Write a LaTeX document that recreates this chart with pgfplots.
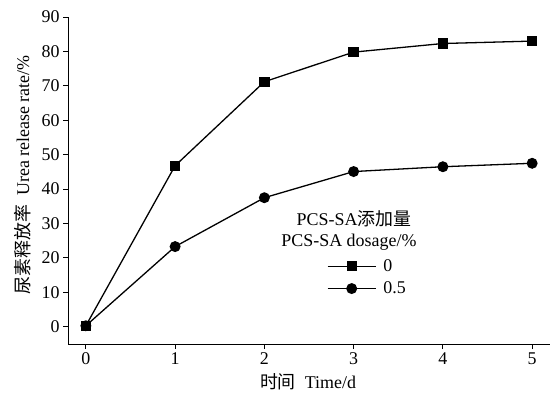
\documentclass[border=0pt]{standalone}
\usepackage{fontspec}
\setmainfont{Liberation Serif}
\newfontfamily\cjk{Noto Sans CJK SC}
\usepackage{pgfplots}
\pgfplotsset{compat=1.18}
\begin{document}
\begin{tikzpicture}
\begin{axis}[
  scale only axis, width=482bp, height=327bp,
  xmin=-0.2, xmax=5.2, ymin=-5, ymax=90,
  axis x line*=bottom, axis y line*=left,
  xtick={0,1,2,3,4,5}, ytick={0,10,...,90},
  tick align=outside, major tick length=5bp,
  every tick/.style={black, line width=1bp},
  axis line style={line width=1bp},
  font=\fontsize{18}{21}\selectfont,
  ticklabel style={font=\fontsize{18}{21}\selectfont},
  /pgf/number format/assume math mode=true,
  xlabel={{\cjk 时间}\enspace Time/d},
  ylabel={{\cjk 尿素释放率}\enspace Urea release rate/\%},
  xlabel style={at={(axis description cs:0.498,-0.116)}, anchor=center},
  ylabel style={at={(axis description cs:-0.095,0.517)}, anchor=center},
  clip=false,
  legend style={draw=none, fill=none, at={(axis cs:2.70,20.2)}, anchor=north west,
    font=\fontsize{18}{21}\selectfont, inner sep=0pt, row sep=5bp,
    /tikz/every odd column/.append style={column sep=5bp}},
  legend cell align=left,
  legend image code/.code={\draw[mark repeat=2,mark phase=2] plot coordinates {(0bp,0bp)(24bp,0bp)(48bp,0bp)};},
]
\addplot[black, line width=1.3bp, mark=square*, mark size=4.5bp, mark options={solid}]
  coordinates {(0,0.3)(1,46.8)(2,71.2)(3,79.8)(4,82.3)(5,83.0)};
\addlegendentry{0}
\addplot[black, line width=1.3bp, mark=*, mark size=4.8bp, mark options={solid}]
  coordinates {(0,0.3)(1,23.3)(2,37.5)(3,45.1)(4,46.5)(5,47.5)};
\addlegendentry{0.5}
\node[anchor=center, font=\fontsize{18}{21}\selectfont] at (axis cs:3.004,31.3) {PCS-SA{\cjk 添加量}};
\node[anchor=center, font=\fontsize{18}{21}\selectfont] at (axis cs:2.948,24.6) {PCS-SA dosage/\%};
\end{axis}
\pgfresetboundingbox
\path[use as bounding box] (-68bp,-52bp) rectangle (482bp,344bp);
\end{tikzpicture}
\end{document}
